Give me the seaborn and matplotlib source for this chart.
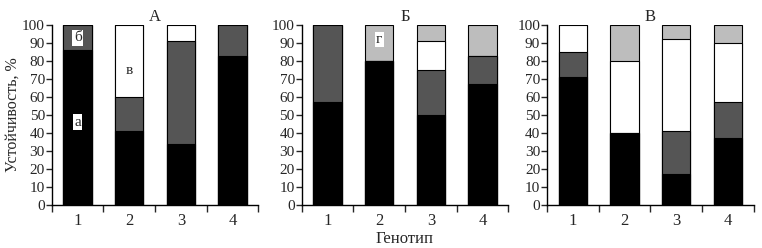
import numpy as np
import pandas as pd
import matplotlib
matplotlib.use("Agg")
import matplotlib.pyplot as plt
import seaborn as sns

genotypes = ["1", "2", "3", "4"]
panel_titles = ["А", "Б", "В"]

# segment values (%) per genotype, bottom to top: а (black), б (dark grey), в (white), г (light grey)
a_black = [86, 41, 34, 83]
a_dark = [14, 19, 57, 17]
a_white = [0, 40, 9, 0]
a_light = [0, 0, 0, 0]

b_black = [57, 80, 50, 67]
b_dark = [43, 0, 25, 16]
b_white = [0, 0, 16, 0]
b_light = [0, 20, 9, 17]

v_black = [71, 40, 17, 37]
v_dark = [14, 0, 24, 20]
v_white = [15, 40, 51, 33]
v_light = [0, 20, 8, 10]

seg_colors = ["black", "#555555", "white", "#bdbdbd"]

panels = [
    [a_black, a_dark, a_white, a_light],
    [b_black, b_dark, b_white, b_light],
    [v_black, v_dark, v_white, v_light],
]

sns.set_style("ticks")
plt.rcParams["font.family"] = ["Liberation Serif", "DejaVu Serif"]
plt.rcParams["font.size"] = 10

fig = plt.figure(figsize=(7.62, 2.48), dpi=100)
lefts = [0.068, 0.396, 0.718]
axes = [fig.add_axes([l, 0.173, 0.271, 0.726]) for l in lefts]

for ax, segs, title in zip(axes, panels, panel_titles):
    cum = np.cumsum(np.array(segs), axis=0)
    # draw from the top of the stack down so lower segments overwrite
    for i in range(3, -1, -1):
        df = pd.DataFrame({"g": genotypes, "v": cum[i]})
        sns.barplot(data=df, x="g", y="v", color=seg_colors[i], saturation=1,
                    width=0.55, edgecolor="black", linewidth=0.8, ax=ax)
    ax.set_ylim(0, 100)
    ax.set_xlim(-0.5, 3.5)
    ax.set_yticks(range(0, 101, 10))
    ax.set_xticks(np.arange(-0.5, 4, 1))
    ax.set_xticklabels([])
    ax.set_xticks(range(4), minor=True)
    ax.set_xticklabels(genotypes, minor=True, fontsize=12)
    ax.tick_params(axis="x", which="minor", length=0, pad=6)
    ax.tick_params(axis="x", which="major", length=5, width=1, direction="out")
    ax.tick_params(axis="y", length=4, width=1, pad=1, labelsize=11)
    ax.set_xlabel("")
    ax.set_ylabel("")
    ax.set_title(title, fontsize=12, pad=3)
    for s in ["top", "right"]:
        ax.spines[s].set_visible(False)
    for s in ["left", "bottom"]:
        ax.spines[s].set_linewidth(1)
        ax.spines[s].set_color("black")

box = dict(facecolor="white", edgecolor="none", pad=1)
axes[0].text(0, 46, "а", ha="center", va="center", fontsize=11, bbox=box)
axes[0].text(0, 93, "б", ha="center", va="center", fontsize=11, bbox=box)
axes[1].text(1, 92, "г", ha="center", va="center", fontsize=11, bbox=box)
axes[0].text(1, 75, "в", ha="center", va="center", fontsize=11, bbox=box)

axes[0].set_ylabel("Устойчивость, %", fontsize=11.5, labelpad=1)
axes[1].set_xlabel("Генотип", fontsize=12, labelpad=1)

fig.savefig("out.png", dpi=100)
